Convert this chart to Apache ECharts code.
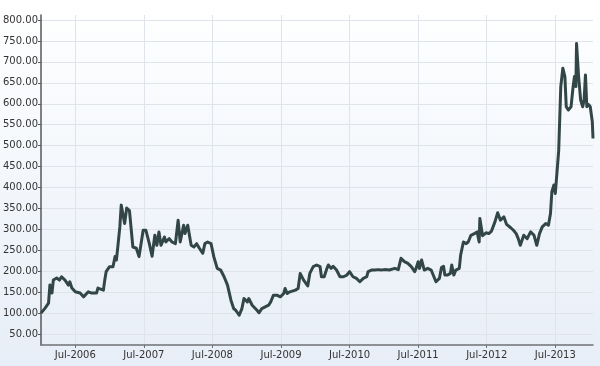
<!DOCTYPE html>
<html>
<head>
<meta charset="utf-8">
<script src="https://cdn.jsdelivr.net/npm/echarts@6/dist/echarts.min.js"></script>
<style>
  html, body { margin: 0; padding: 0; }
  #chart { width: 600px; height: 366px; }
</style>
</head>
<body>
<div id="chart"></div>
<script>
// dates as decimal years
var years = [
    2006.00, 2006.06, 2006.11, 2006.13, 2006.16, 2006.18, 2006.23, 2006.27, 2006.30, 2006.35,
    2006.40, 2006.42, 2006.45, 2006.50, 2006.57, 2006.62, 2006.64, 2006.69, 2006.74, 2006.76,
    2006.81, 2006.83, 2006.91, 2006.93, 2006.95, 2007.00, 2007.05, 2007.08, 2007.10, 2007.12,
    2007.15, 2007.17, 2007.22, 2007.25, 2007.29, 2007.34, 2007.39, 2007.43, 2007.49, 2007.53,
    2007.58, 2007.62, 2007.66, 2007.69, 2007.72, 2007.75, 2007.80, 2007.82, 2007.87, 2007.91,
    2007.96, 2008.00, 2008.03, 2008.08, 2008.10, 2008.14, 2008.19, 2008.23, 2008.27, 2008.31,
    2008.36, 2008.39, 2008.43, 2008.48, 2008.52, 2008.57, 2008.62, 2008.67, 2008.72, 2008.77,
    2008.81, 2008.84, 2008.89, 2008.93, 2008.96, 2009.01, 2009.03, 2009.08, 2009.15, 2009.18,
    2009.22, 2009.27, 2009.32, 2009.35, 2009.37, 2009.39, 2009.44, 2009.49, 2009.54, 2009.56,
    2009.59, 2009.63, 2009.71, 2009.75, 2009.78, 2009.80, 2009.83, 2009.85, 2009.89, 2009.92,
    2009.97, 2010.02, 2010.07, 2010.09, 2010.13, 2010.17, 2010.19, 2010.23, 2010.26, 2010.31,
    2010.36, 2010.41, 2010.46, 2010.50, 2010.55, 2010.60, 2010.65, 2010.70, 2010.75, 2010.77,
    2010.82, 2010.84, 2010.87, 2010.92, 2010.96, 2011.01, 2011.08, 2011.16, 2011.21, 2011.25,
    2011.30, 2011.35, 2011.40, 2011.45, 2011.47, 2011.50, 2011.52, 2011.55, 2011.59, 2011.64,
    2011.69, 2011.73, 2011.76, 2011.81, 2011.84, 2011.87, 2011.89, 2011.93, 2011.97, 2011.99,
    2012.02, 2012.05, 2012.10, 2012.12, 2012.16, 2012.20, 2012.23, 2012.27, 2012.32, 2012.36,
    2012.39, 2012.40, 2012.44, 2012.49, 2012.53, 2012.57, 2012.62, 2012.66, 2012.70, 2012.75,
    2012.79, 2012.85, 2012.89, 2012.93, 2012.96, 2012.99, 2013.04, 2013.09, 2013.14, 2013.19,
    2013.23, 2013.27, 2013.31, 2013.36, 2013.38, 2013.40, 2013.43, 2013.45, 2013.48, 2013.50,
    2013.52, 2013.55, 2013.58, 2013.61, 2013.64, 2013.66, 2013.69, 2013.73, 2013.76, 2013.78,
    2013.80, 2013.81, 2013.84, 2013.87, 2013.90, 2013.92, 2013.94, 2013.96, 2013.98, 2014.01,
    2014.04, 2014.05
];
var prices = [
    100, 112, 124, 167, 148, 179, 184, 179, 187, 179,
    167, 175, 160, 151, 148, 139, 143, 151, 148, 151,
    148, 160, 155, 179, 199, 211, 211, 235, 227, 258,
    306, 358, 314, 351, 345, 258, 255, 235, 298, 298,
    266, 236, 286, 262, 294, 262, 282, 270, 278, 270,
    266, 322, 270, 310, 290, 310, 262, 258, 266, 255,
    243, 266, 270, 266, 235, 207, 203, 187, 167, 131,
    111, 107, 95, 111, 135, 127, 135, 119, 107, 101,
    111, 115, 119, 127, 135, 143, 143, 139, 147, 159,
    147, 151, 155, 159, 195, 191, 179, 183, 165, 195,
    211, 215, 211, 187, 187, 207, 215, 207, 212, 203,
    187, 187, 191, 199, 187, 183, 175, 183, 187, 199,
    203, 207, 203, 204, 203, 204, 203, 207, 204, 231,
    223, 219, 211, 199, 207, 223, 207, 227, 203, 207,
    203, 187, 175, 183, 209, 212, 191, 191, 195, 215,
    191, 203, 207, 239, 270, 266, 270, 286, 290, 294,
    270, 326, 285, 292, 290, 296, 318, 340, 322, 330,
    312, 304, 298, 290, 278, 262, 286, 278, 294, 286,
    262, 290, 306, 314, 318, 310, 338, 390, 406, 386,
    426, 489, 641, 685, 665, 593, 585, 593, 641, 665,
    641, 744, 665, 609, 593, 609, 669, 593, 599, 593,
    557, 517
];
var julyTicks = [2006.5, 2007.5, 2008.5, 2009.5, 2010.5, 2011.5, 2012.5, 2013.5];
var priceTicks = [50, 100, 150, 200, 250, 300, 350, 400, 450, 500, 550, 600, 650, 700, 750, 800];

var points = years.map(function (y, i) { return [y, prices[i]]; });

var chart = echarts.init(document.getElementById('chart'));
var option = {
    animation: false,
    backgroundColor: {
        type: 'linear', x: 0, y: 0, x2: 0, y2: 1,
        colorStops: [
            { offset: 0, color: '#ffffff' },
            { offset: 1, color: '#e7eef7' }
        ]
    },
    grid: { left: 37, right: 7, top: 15, bottom: 21 },
    textStyle: { fontFamily: 'DejaVu Sans' },
    xAxis: {
        type: 'value',
        min: 2006.0,
        max: 2014.05,
        axisLine: { show: true, onZero: false, lineStyle: { color: '#6f7275', width: 1.5 } },
        axisTick: { show: true, length: 3, customValues: julyTicks, lineStyle: { color: '#6f7275' } },
        axisLabel: {
            customValues: julyTicks,
            color: '#333',
            fontSize: 10,
            margin: 5,
            formatter: function (v) { return 'Jul-' + Math.floor(v); }
        },
        splitLine: { show: true, lineStyle: { color: '#dfe4ea', width: 1 } }
    },
    yAxis: {
        type: 'value',
        min: 24,
        max: 812,
        axisLine: { show: true, lineStyle: { color: '#55595c', width: 1.5 } },
        axisTick: { show: true, length: 3, customValues: priceTicks, lineStyle: { color: '#55595c' } },
        axisLabel: {
            customValues: priceTicks,
            color: '#333',
            fontSize: 10,
            margin: 3,
            formatter: function (v) { return v.toFixed(2); }
        },
        splitLine: { show: true, lineStyle: { color: '#dfe4ea', width: 1 } }
    },
    series: [{
        type: 'line',
        data: points,
        showSymbol: false,
        lineStyle: { color: '#334647', width: 3, join: 'round' }
    }]
};
chart.setOption(option);
</script>
</body>
</html>
